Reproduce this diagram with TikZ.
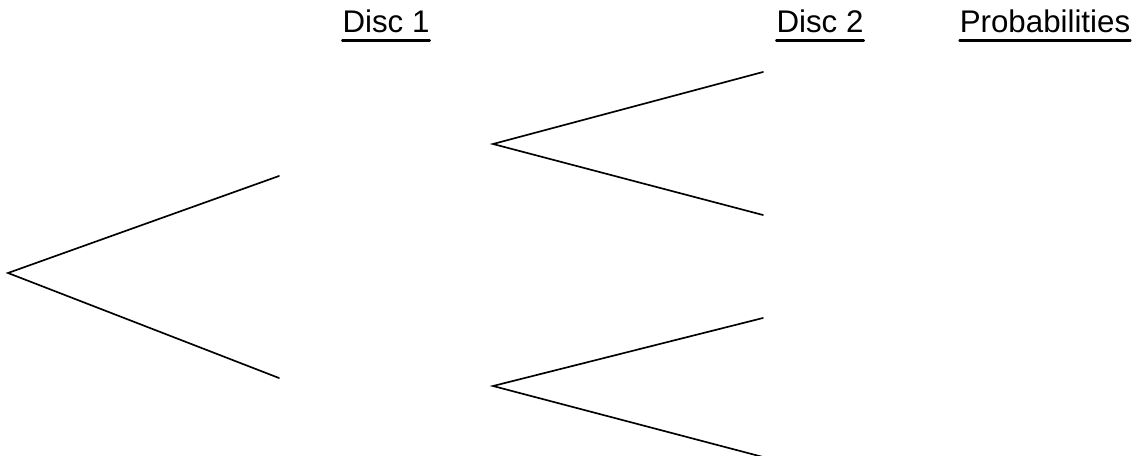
\documentclass[tikz,border=0pt]{standalone}
\usepackage{fontspec}
\setmainfont{Liberation Sans}
\usetikzlibrary{positioning}

\begin{document}
\begin{tikzpicture}[x=0.02cm,y=-0.02cm,line cap=round,
    head/.style={anchor=base,inner sep=0pt,font=\fontsize{17.8}{21}\selectfont},
    branch/.style={line width=0.95pt}]
        % fix the frame
        \useasboundingbox (0,0) rectangle (1140,456);
        \clip (0,0) rectangle (1140,456);

        % draw the column headings
        \node[head] (disc1) at (386,33)  {Disc 1};
        \node[head] (disc2) at (820,33)  {Disc 2};
        \node[head] (prob)  at (1045,33) {Probabilities};
        \foreach \h in {disc1,disc2,prob}
            \draw[line width=1.3pt] ([yshift=-0.15cm]\h.base west) -- ([yshift=-0.15cm]\h.base east);

        % the points of the tree
        \coordinate (root) at (8,273);
        \coordinate (a)    at (279,176);
        \coordinate (b)    at (279,378);
        \coordinate (c)    at (493,144);
        \coordinate (d)    at (493,386);
        \coordinate (ca)   at (763,72);
        \coordinate (cb)   at (763,215);
        \coordinate (da)   at (763,318);
        \coordinate (db)   at (763,457);

        % first disc
        \draw[branch] (a) -- (root) -- (b);

        % second disc
        \draw[branch] (ca) -- (c) -- (cb);
        \draw[branch] (da) -- (d) -- (db);
    \end{tikzpicture}
\end{document}
